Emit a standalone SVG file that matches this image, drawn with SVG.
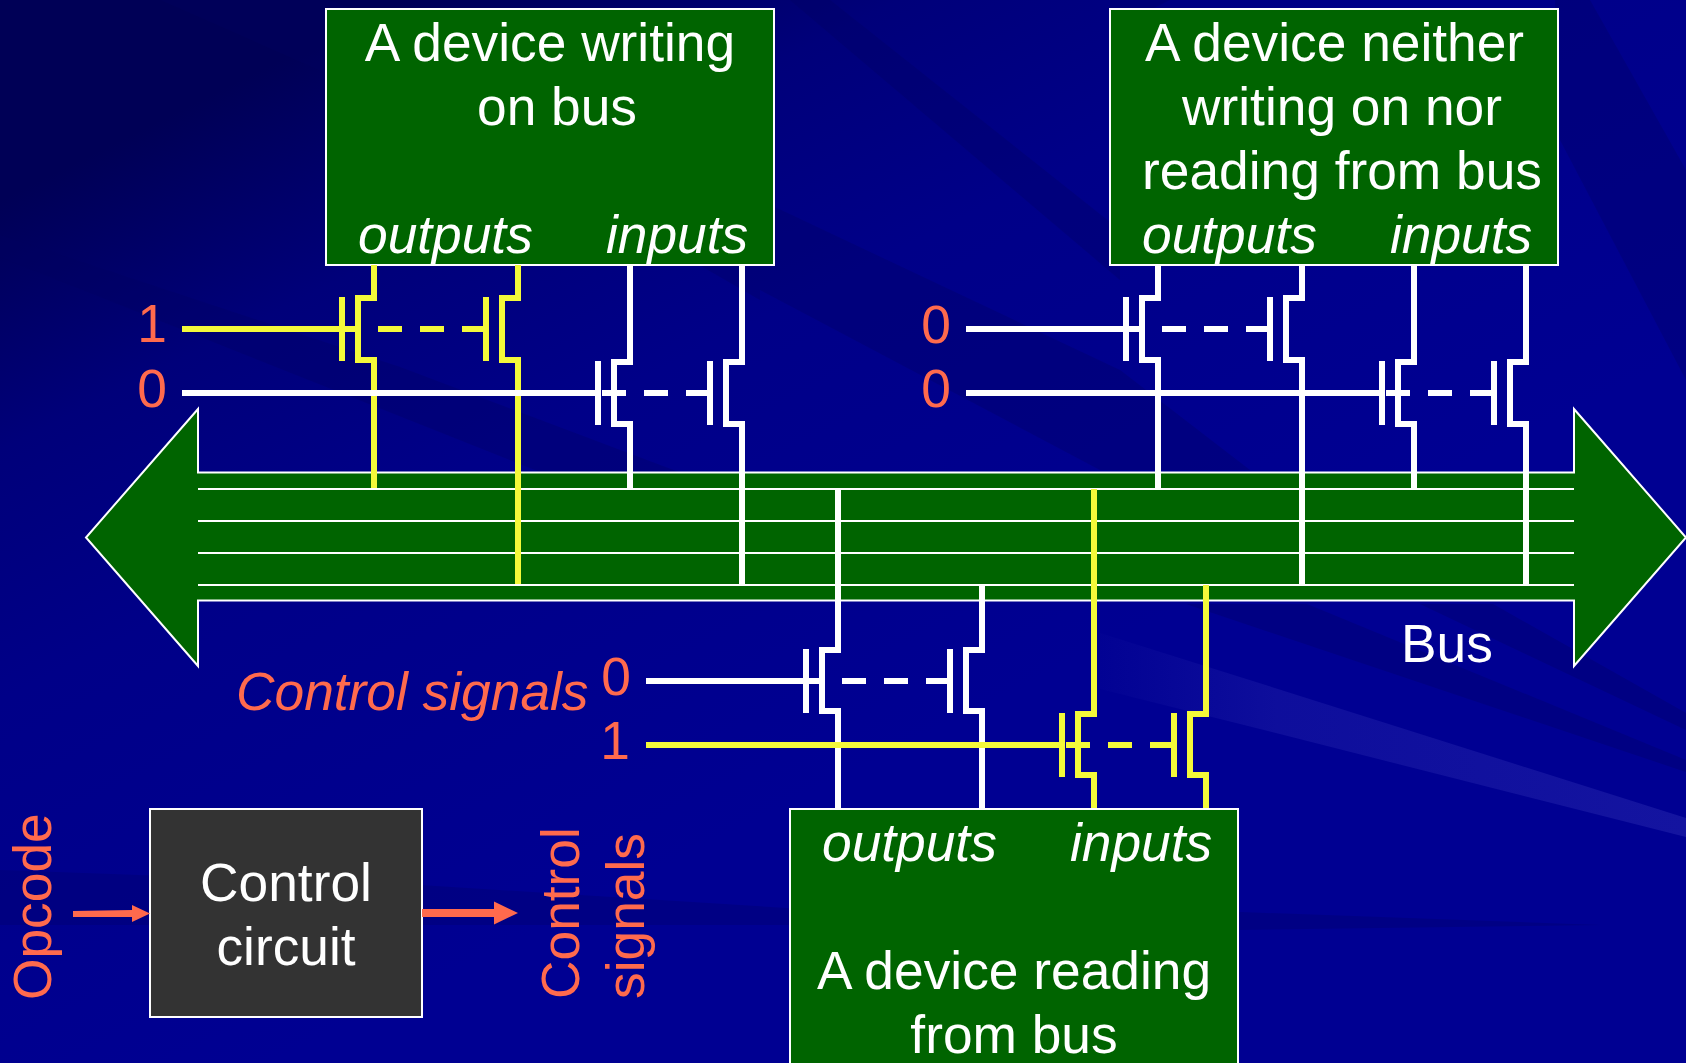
<svg xmlns="http://www.w3.org/2000/svg" width="1686" height="1063" viewBox="0 0 1686 1063">
<defs>
<linearGradient id="bg" gradientUnits="userSpaceOnUse" x1="300" y1="50" x2="700" y2="850"><stop offset="0" stop-color="#000056"/><stop offset="0.25" stop-color="#00007a"/><stop offset="0.5" stop-color="#000088"/><stop offset="1" stop-color="#000092"/></linearGradient>
<linearGradient id="fade" gradientUnits="userSpaceOnUse" x1="1100" y1="0" x2="1686" y2="0"><stop offset="0" stop-color="#1414a0" stop-opacity="0.1"/><stop offset="0.3" stop-color="#1414a0" stop-opacity="0.7"/><stop offset="1" stop-color="#1414a0"/></linearGradient>
</defs>
<style>
text{font-family:"Liberation Sans",Arial,sans-serif;font-size:53.3px}
.w{fill:#fff}.o{fill:#ff6a4d}.i{font-style:italic}.m{text-anchor:middle}
.box{fill:#006400;stroke:#fff;stroke-width:2}
.bus{fill:#006400;stroke:#fff;stroke-width:2}
.bl{stroke:#fff;stroke-width:2;fill:none}
.c{fill:none;stroke-width:6;stroke-linejoin:miter}
.g{fill:none;stroke-width:6}
.wh{stroke:#fff}.ye{stroke:#f4f93a}
.dk{fill:#000060;opacity:.3}
</style>
<g id="background">
<rect width="1686" height="1063" fill="url(#bg)"/>
<polygon class="dk" points="0,235 400,367 700,480 560,480 0,257"/>
<polygon class="dk" points="160,0 330,0 560,100 760,220 760,300 500,150"/>
<polygon class="dk" points="790,0 830,0 1120,230 1120,280"/>
<polygon class="dk" points="760,200 1120,370 1250,470 1100,470 760,290"/>
<polygon class="dk" points="1555,0 1590,0 1686,170 1686,380 1560,140"/>
<polygon class="dk" points="1110,0 1170,0 1110,30"/>
<polygon class="dk" points="1186,604 1307,604 1686,760 1686,772"/>
<polygon class="dk" points="1420,604 1493,604 1686,713 1686,730"/>
<polygon fill="url(#fade)" points="1100,633 1240,677 1686,818 1686,837 1240,724 1100,689"/>
<polygon points="0,870 420,885 900,915 1240,912 1600,925 1240,930 900,925 420,925 0,925" fill="#000070" opacity="0.4"/>
</g>
<g id="bus">
<polygon class="bus" points="198,472.500 198,409 86,537.500 198,666 198,600.500 1574,600.500 1574,666 1686,537.500 1574,409 1574,472.500"/>
<path class="bl" d="M198 489H1574M198 521H1574M198 553H1574M198 585H1574"/>
</g>
<g id="bus-label"><text class="w" x="1401" y="662">Bus</text></g>
<g id="device-writing">
<rect class="box" x="326" y="9" width="448" height="256"/>
<text class="w m" x="550" y="61">A device writing</text>
<text class="w m" x="557" y="125">on bus</text>
<text class="w i" x="358" y="253">outputs</text>
<text class="w i" x="606" y="253">inputs</text>
</g>
<g id="device-idle">
<rect class="box" x="1110" y="9" width="448" height="256"/>
<text class="w m" x="1334.500" y="61">A device neither</text>
<text class="w m" x="1342" y="125">writing on nor</text>
<text class="w m" x="1342" y="189">reading from bus</text>
<text class="w i" x="1142" y="253">outputs</text>
<text class="w i" x="1390" y="253">inputs</text>
</g>
<g id="device-reading">
<rect class="box" x="790" y="809" width="448" height="264"/>
<text class="w i" x="822" y="861">outputs</text>
<text class="w i" x="1070" y="861">inputs</text>
<text class="w m" x="1014" y="989">A device reading</text>
<text class="w m" x="1014" y="1053">from bus</text>
</g>
<g id="control-circuit">
<rect x="150" y="809" width="272" height="208" fill="#333" stroke="#fff" stroke-width="2"/>
<text class="w m" x="286" y="901">Control</text>
<text class="w m" x="286" y="965">circuit</text>
</g>
<g id="labels">
<text class="o m" x="152" y="342">1</text>
<text class="o m" x="152" y="407">0</text>
<text class="o m" x="936" y="343">0</text>
<text class="o m" x="936" y="407">0</text>
<text class="o m" x="616" y="695">0</text>
<text class="o m" x="615" y="759">1</text>
<text class="o i" x="236" y="710">Control signals</text>
<text class="o" transform="translate(51 1000) rotate(-90)">Opcode</text>
<text class="o" transform="translate(579 999) rotate(-90)">Control</text>
<text class="o" transform="translate(644 999) rotate(-90)">signals</text>
</g>
<g id="connectors">
<path class="c ye" d="M374 265V298H358V360H374V488M518 265V298H502V360H518V584"/>
<path class="g ye" d="M342 297V361M486 297V361M182 329H355M378 329H402M420 329H444M462 329H486"/>
<path class="c wh" d="M630 265V362H614V424H630V488M742 265V362H726V424H742V584"/>
<path class="g wh" d="M598 361V425M710 361V425M182 393H596M602 393H626M644 393H668M686 393H710"/>
<path class="c wh" d="M1158 265V298H1142V360H1158V488M1302 265V298H1286V360H1302V584"/>
<path class="g wh" d="M1126 297V361M1270 297V361M966 329H1139M1162 329H1186M1204 329H1228M1246 329H1270"/>
<path class="c wh" d="M1414 265V362H1398V424H1414V488M1526 265V362H1510V424H1526V584"/>
<path class="g wh" d="M1382 361V425M1494 361V425M966 393H1380M1386 393H1410M1428 393H1452M1470 393H1494"/>
<path class="c wh" d="M838 489V650H822V711H838V808M982 585V650H966V711H982V808"/>
<path class="g wh" d="M806 649V713M950 649V713M646 681H819M842 681H866M884 681H908M926 681H950"/>
<path class="c ye" d="M1094 489V714H1078V775H1094V808M1206 585V714H1190V775H1206V808"/>
<path class="g ye" d="M1062 713V777M1174 713V777M646 745H1060M1066 745H1090M1108 745H1132M1150 745H1174"/>
<polygon fill="#ff6a4d" points="73,911 132,910 132,905 150,913.500 132,922 132,917 73,917"/>
<polygon fill="#ff6a4d" points="422,909 494,909 494,901.500 518,913 494,924.500 494,917 422,917"/>
</g>
</svg>
